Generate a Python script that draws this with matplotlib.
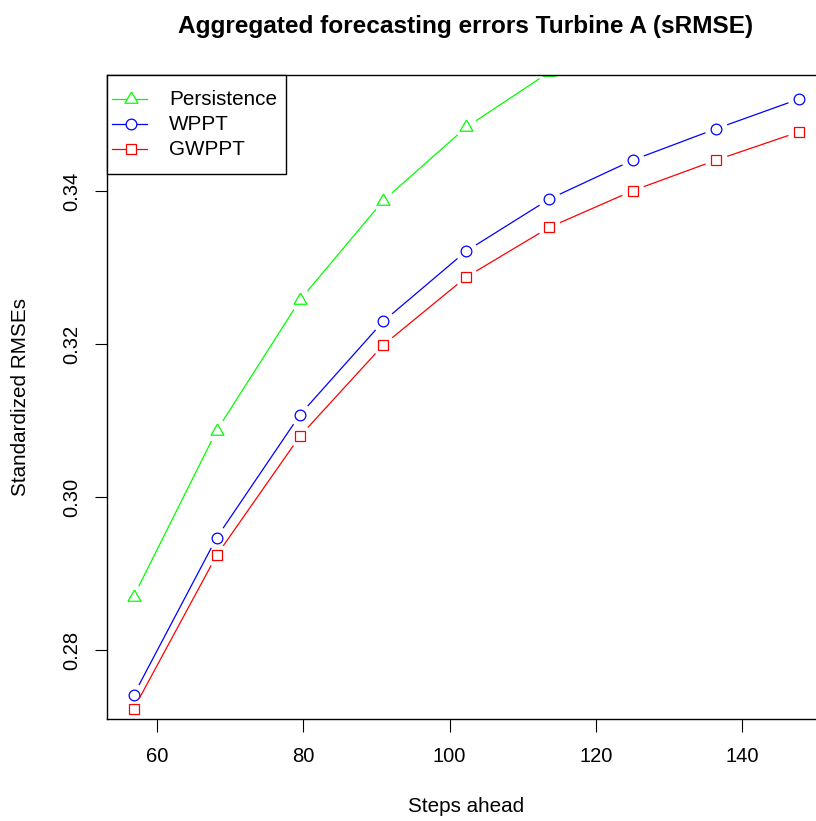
import numpy as np
import matplotlib
matplotlib.use("Agg")
import matplotlib.pyplot as plt
from matplotlib.lines import Line2D
from matplotlib.patches import Rectangle

plt.rcParams['font.family'] = ['Liberation Sans', 'DejaVu Sans']

steps = [56.8, 68.15, 79.55, 90.93, 102.28, 113.63, 125.06, 136.45, 147.8]
persistence = [0.2870, 0.3087, 0.3258, 0.3388, 0.3484, 0.3556, 0.3615, 0.3660, 0.3700]
wppt = [0.2741, 0.2947, 0.3108, 0.3230, 0.3322, 0.3390, 0.3441, 0.3482, 0.3521]
gwppt = [0.2723, 0.2924, 0.3080, 0.3199, 0.3288, 0.3353, 0.3401, 0.3441, 0.3478]

series = [
    ("Persistence", persistence, "#00ff00"),
    ("WPPT", wppt, "#0000ff"),
    ("GWPPT", gwppt, "#ff0000"),
]

# equilateral triangle centred on its centroid, like R's pch=2
tri = [(0, 1), (-0.866, -0.5), (0.866, -0.5), (0, 1)]
markers = {"Persistence": (tri, 10.8), "WPPT": ("o", 7.7), "GWPPT": ("s", 6.8)}

FS = 14.9
W, H = 816, 821
fig = plt.figure(figsize=(W / 100, H / 100), dpi=100)
ax = fig.add_axes([0.1311, 0.1242, 0.8811, 0.7844])


def padded(v):
    lo, hi = min(v), max(v)
    d = (hi - lo) * 0.04
    return lo - d, hi + d


ax.set_xlim(*padded(steps))
ax.set_ylim(*padded(wppt))


def gapped_line(ax, x, y, gap, **kw):
    # type="b": segments stop short of each point
    pts = ax.transData.transform(np.column_stack([x, y]))
    inv = ax.transData.inverted()
    for p, q in zip(pts[:-1], pts[1:]):
        d = q - p
        L = np.hypot(*d)
        if L <= 2 * gap:
            continue
        u = d / L
        a, b = inv.transform(np.array([p + u * gap, q - u * gap]))
        ax.plot([a[0], b[0]], [a[1], b[1]], **kw)


for name, vals, col in series:
    m, ms = markers[name]
    gapped_line(ax, steps, vals, 11.5, color=col, lw=0.9, solid_capstyle='butt')
    ax.plot(steps, vals, linestyle='none', marker=m, ms=ms, mfc='none',
            mec=col, mew=0.9)

ax.set_xticks([60, 80, 100, 120, 140])
ax.set_yticks([0.28, 0.30, 0.32, 0.34])
ax.set_yticklabels(["0.28", "0.30", "0.32", "0.34"], rotation=90, va='center')
ax.tick_params(direction='out', length=9.0, width=0.8, labelsize=14.5)
ax.tick_params(axis='x', pad=11)
ax.tick_params(axis='y', pad=9.3)
for s in ax.spines.values():
    s.set_linewidth(1.0)


# legend box in the top-left corner, laid out in pixels
def fx(px):
    return px / W


def fy(py):
    return 1 - py / H


tf = fig.transFigure
fig.add_artist(Rectangle((fx(107), fy(174.3)), fx(285.7) - fx(107), fy(75) - fy(174.3),
                         transform=tf, fill=True, fc='white', ec='black', lw=1.0, zorder=5))
for i, (name, vals, col) in enumerate(series):
    m, ms = markers[name]
    yy = fy(99.3 + 25 * i)
    fig.add_artist(Line2D([fx(111.7), fx(146.7)], [yy, yy], transform=tf, color=col,
                          lw=0.9, zorder=6))
    fig.add_artist(Line2D([fx(131)], [yy], transform=tf, linestyle='none', marker=m,
                          ms=ms, mfc='white', mec=col, mew=0.9, zorder=7))
    fig.text(fx(169), yy, name, ha='left', va='center', fontsize=FS, zorder=7)

fig.text(466 / W, 1 - 26 / H, "Aggregated forecasting errors Turbine A (sRMSE)",
         ha='center', va='center', fontsize=17.6, fontweight='bold')
fig.text(466 / W, 1 - 806 / H, "Steps ahead", ha='center', va='center', fontsize=FS)
fig.text(21 / W, 1 - 397 / H, "Standardized RMSEs", ha='center', va='center',
         rotation=90, fontsize=FS)

fig.savefig("out.png", dpi=100)
